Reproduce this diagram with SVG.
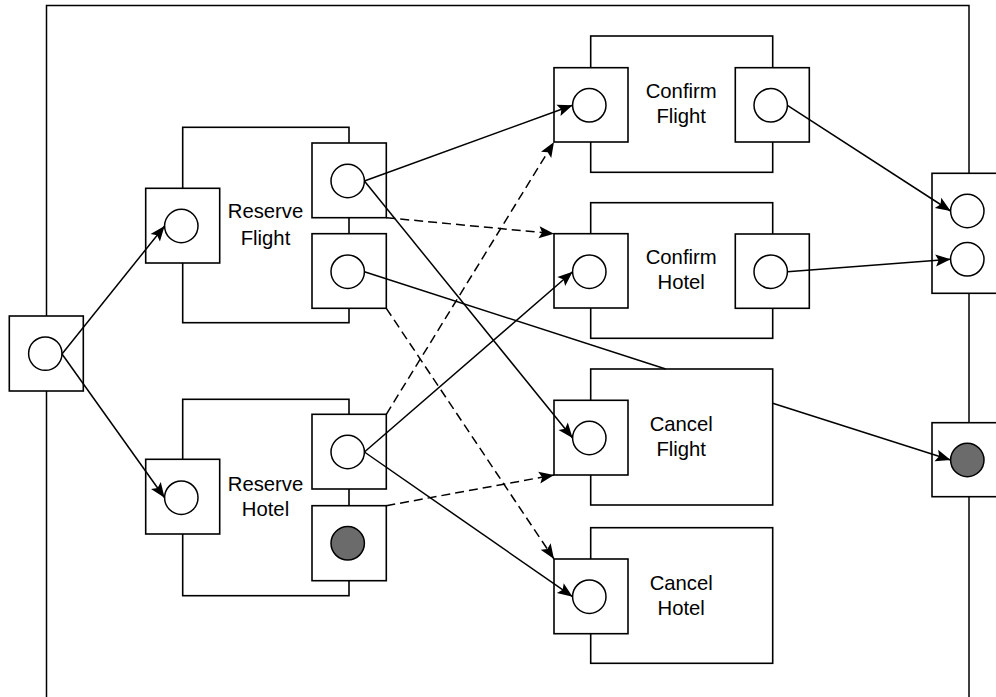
<svg xmlns="http://www.w3.org/2000/svg" width="996" height="697" viewBox="0 0 996 697">
<style>
.frame{fill:none;stroke:#000;stroke-width:1.5}
.box{fill:#fff;stroke:#000;stroke-width:1.6}
.port{fill:#fff;stroke:#000;stroke-width:1.6}
.c{fill:#fff;stroke:#000;stroke-width:1.5}
.cf{fill:#6b6b6b;stroke:#000;stroke-width:1.5}
.lbl{font-family:"Liberation Sans",Arial,sans-serif;font-size:20.3px;fill:#000;text-anchor:middle}
.ln{fill:none;stroke:#000;stroke-width:1.5}
.arr{marker-end:url(#ah)}
.dash{stroke-dasharray:9,5}
</style>
<defs>
<marker id="ah" markerUnits="userSpaceOnUse" markerWidth="18" markerHeight="16" viewBox="-17 -8 18 16" refX="0" refY="0" orient="auto">
<path d="M0,0 L-15,-6 L-12,0 L-15,6 Z" fill="#000"/>
</marker>
</defs>
<rect width="996" height="697" fill="#fff"/>
<g id="frame">
<path class="frame" d="M46.5,697 L46.5,5.5 L969,5.5 L969,697"/>
</g>
<g id="start-port">
<rect class="port" x="9.3" y="316" width="74" height="75"/>
<circle class="c" cx="45.3" cy="353.6" r="16.7"/>
</g>
<g id="reserve-flight">
<rect class="box" x="182.7" y="127.3" width="166.3" height="195.4"/>
<rect class="port" x="145.7" y="188.3" width="74" height="74.7"/>
<circle class="c" cx="181.3" cy="226" r="16.7"/>
<rect class="port" x="312" y="143" width="74.3" height="74.7"/>
<circle class="c" cx="347.7" cy="181" r="16.7"/>
<rect class="port" x="312" y="233.7" width="74.3" height="74.6"/>
<circle class="c" cx="347.7" cy="271.7" r="16.7"/>
<text class="lbl" x="265.5" y="218.3">Reserve</text>
<text class="lbl" x="265.5" y="245">Flight</text>
</g>
<g id="reserve-hotel">
<rect class="box" x="182.7" y="399.3" width="166.3" height="196.4"/>
<rect class="port" x="145.7" y="459.3" width="74" height="74.7"/>
<circle class="c" cx="181.3" cy="497.7" r="16.7"/>
<rect class="port" x="312" y="414.3" width="74.3" height="74.7"/>
<circle class="c" cx="347.7" cy="452" r="16.7"/>
<rect class="port" x="312" y="505.7" width="74.3" height="75"/>
<circle class="cf" cx="347.7" cy="543.3" r="16.7"/>
<text class="lbl" x="265.5" y="490.5">Reserve</text>
<text class="lbl" x="265.5" y="516">Hotel</text>
</g>
<g id="confirm-flight">
<rect class="box" x="590.7" y="36" width="182" height="136.3"/>
<rect class="port" x="554" y="67.7" width="74" height="74.3"/>
<circle class="c" cx="589.3" cy="105.3" r="16.7"/>
<rect class="port" x="735.3" y="67.7" width="74" height="74.3"/>
<circle class="c" cx="770.7" cy="105.3" r="16.7"/>
<text class="lbl" x="681.2" y="98.3">Confirm</text>
<text class="lbl" x="681.2" y="123.3">Flight</text>
</g>
<g id="confirm-hotel">
<rect class="box" x="590.7" y="202.7" width="182" height="135.6"/>
<rect class="port" x="554" y="233.7" width="74" height="74.3"/>
<circle class="c" cx="589.3" cy="271.7" r="16.7"/>
<rect class="port" x="735.3" y="234" width="74" height="74.3"/>
<circle class="c" cx="770.7" cy="271.7" r="16.7"/>
<text class="lbl" x="681.2" y="264.3">Confirm</text>
<text class="lbl" x="681.2" y="289.3">Hotel</text>
</g>
<g id="cancel-flight">
<rect class="box" x="590.7" y="369" width="182" height="136"/>
<rect class="port" x="554" y="400.3" width="74" height="74.7"/>
<circle class="c" cx="589.3" cy="438" r="16.7"/>
<text class="lbl" x="681.2" y="431">Cancel</text>
<text class="lbl" x="681.2" y="456">Flight</text>
</g>
<g id="cancel-hotel">
<rect class="box" x="590.7" y="527.7" width="182" height="135.6"/>
<rect class="port" x="554" y="559" width="74" height="74.7"/>
<circle class="c" cx="589.3" cy="596.7" r="16.7"/>
<text class="lbl" x="681.2" y="590">Cancel</text>
<text class="lbl" x="681.2" y="615">Hotel</text>
</g>
<g id="end-port">
<rect class="port" x="932" y="173.3" width="74" height="120"/>
<circle class="c" cx="967.3" cy="211" r="16.7"/>
<circle class="c" cx="967.3" cy="259.3" r="16.7"/>
</g>
<g id="fault-port">
<rect class="port" x="932" y="422.7" width="74" height="74"/>
<circle class="cf" cx="967.3" cy="460" r="16.7"/>
</g>
<g id="connectors">
<path class="ln arr" d="M62,354 L164.6,226"/>
<path class="ln arr" d="M62,354 L164.6,497.7"/>
<path class="ln arr" d="M364.4,181 L572.6,105.3"/>
<path class="ln arr" d="M364.4,181 L572.6,438"/>
<path class="ln arr dash" d="M386.3,217.7 L554,233.7"/>
<path class="ln" d="M364.4,271.7 L665.7,369"/>
<path class="ln arr dash" d="M386.3,308.3 L554,559"/>
<path class="ln arr dash" d="M386.3,414.3 L554,142"/>
<path class="ln arr" d="M364.4,452 L572.6,271.7"/>
<path class="ln arr" d="M364.4,452 L572.6,596.7"/>
<path class="ln arr dash" d="M386.3,505.7 L554,475"/>
<path class="ln arr" d="M787.4,105.3 L950.6,211"/>
<path class="ln arr" d="M787.4,271.7 L950.6,259.3"/>
<path class="ln arr" d="M772.7,403.3 L950.6,460"/>
</g>
</svg>
